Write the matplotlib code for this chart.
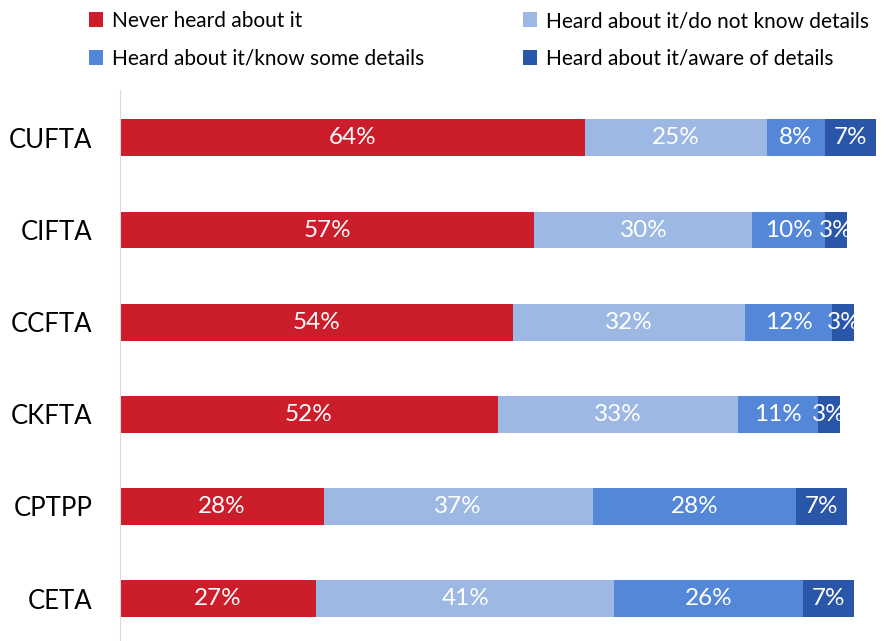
import matplotlib.pyplot as plt
import numpy as np

agreements = ['CUFTA', 'CIFTA', 'CCFTA', 'CKFTA', 'CPTPP', 'CETA']
series_names = ['Never heard about it',
                'Heard about it/do not know details',
                'Heard about it/know some details',
                'Heard about it/aware of details']
never_heard = [64, 57, 54, 52, 28, 27]
no_details = [25, 30, 32, 33, 37, 41]
some_details = [8, 10, 12, 11, 28, 26]
aware_details = [7, 3, 3, 3, 7, 7]
colors = ['#CB1D2A', '#9CB8E3', '#5587D8', '#2A56AA']

plt.rcParams['font.family'] = ['Lato', 'DejaVu Sans']

fig = plt.figure(figsize=(8.94, 6.41), dpi=100)
ax = fig.add_axes([120 / 894, 0, 1 - 120 / 894, 551 / 641])

y = np.arange(len(agreements))
left = np.zeros(len(agreements))
handles = []
for name, vals, c in zip(series_names,
                         [never_heard, no_details, some_details, aware_details],
                         colors):
    bars = ax.barh(y, vals, left=left, height=0.4, color=c, label=name)
    handles.append(bars)
    for b, v in zip(bars, vals):
        t = ax.text(b.get_x() + b.get_width() / 2, b.get_y() + b.get_height() / 2,
                    f'{v}%', ha='center', va='center', color='white', fontsize=17.5)
        t.set_clip_path(b)
    left += np.array(vals)

ax.set_xlim(0, 774 / 7.27)
ax.set_ylim(5.46, -0.52)
ax.set_yticks(y)
ax.set_yticklabels(agreements, fontsize=18.5)
ax.tick_params(axis='y', length=0, pad=20)
ax.set_xticks([])
for s in ['top', 'right', 'bottom']:
    ax.spines[s].set_visible(False)
ax.spines['left'].set_color('#D9D9D9')

# legend fills by column, so reorder to read row-wise
order = [0, 2, 1, 3]
fig.legend([handles[i] for i in order], [series_names[i] for i in order],
           ncol=2, loc='upper left', bbox_to_anchor=(70 / 894, 1.012),
           frameon=False, fontsize=15, handlelength=0.7, handleheight=0.7,
           handletextpad=0.4, columnspacing=4.75, labelspacing=0.85)

fig.savefig('out.png', dpi=100)
